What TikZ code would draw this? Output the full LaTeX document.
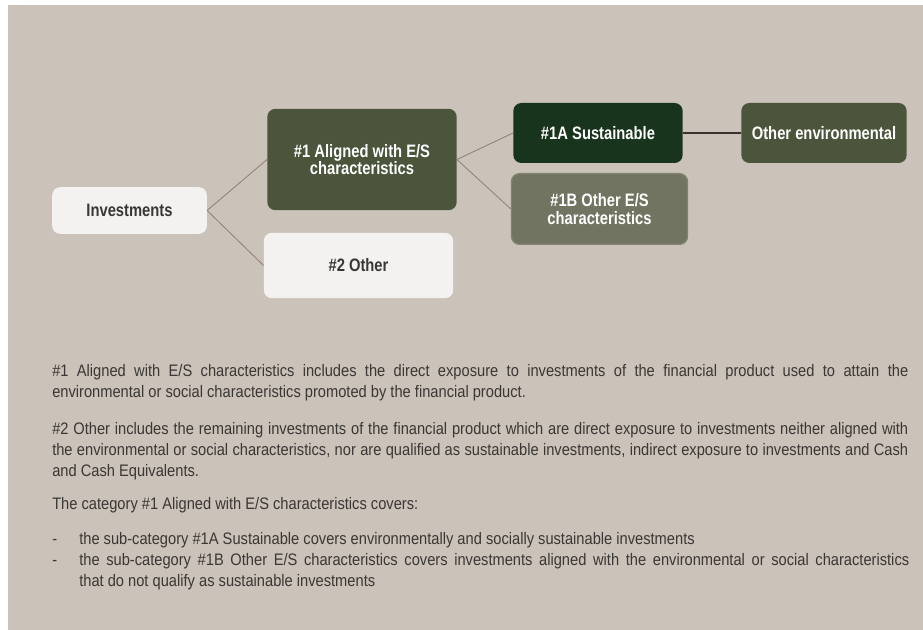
\documentclass[tikz,border=0pt]{standalone}
\usepackage{fontspec}
\setmainfont{Liberation Sans}[FakeStretch=0.88]
\newfontfamily\boxfont{Liberation Sans}[FakeStretch=0.82]
\usetikzlibrary{positioning}
\hyphenpenalty=10000
\exhyphenpenalty=10000

\definecolor{panelbg}{RGB}{203,194,185}
\definecolor{lightbox}{RGB}{243,242,240}
\definecolor{olivebox}{RGB}{74,85,60}
\definecolor{darkbox}{RGB}{25,52,29}
\definecolor{midbox}{RGB}{112,116,96}
\definecolor{linkcol}{RGB}{140,128,118}
\definecolor{barcol}{RGB}{60,48,44}
\definecolor{textcol}{RGB}{58,55,52}

\tikzset{
  catbox/.style={rectangle, rounded corners=6pt, align=center, inner sep=0pt, font=\boxfont\fontsize{13.5}{13}\selectfont\bfseries},
  lightcat/.style={catbox, fill=lightbox, text=textcol},
  olivecat/.style={catbox, fill=olivebox, text=white},
  link/.style={draw=linkcol, line width=0.6pt},
  para/.style={anchor=north west, inner sep=0pt, text width=642pt, align=justify, text=textcol, font=\fontsize{12.5}{15.75}\selectfont}
}

\begin{document}
\begin{tikzpicture}[x=0.75pt,y=0.75pt,yscale=-1,xscale=1]
\useasboundingbox (0,0) rectangle (923,630);

%Shape: Rectangle [background]
\fill [panelbg] (8,5) rectangle (923,630);

% Category boxes
\node [lightcat, minimum width=116pt, minimum height=35pt] (inv) at (129.5,210.5) {Investments};
\node [olivecat, minimum width=142pt, minimum height=76pt] (al) at (362,159.5) {\#1 Aligned with E/S\\characteristics};
\node [lightcat, minimum width=142pt, minimum height=49pt] (oth) at (358.5,265.5) {\#2 Other};
\node [catbox, fill=darkbox, text=white, minimum width=127pt, minimum height=45pt] (sust) at (598,133) {\#1A Sustainable};
\node [catbox, fill=midbox, draw={rgb,255:red,128;green,131;blue,112}, line width=1pt, text=white, minimum width=132pt, minimum height=53pt] (oes) at (599.5,209) {\#1B Other E/S\\characteristics};
\node [olivecat, minimum width=124pt, minimum height=45pt] (env) at (824,133) {Other environmental};

% Connectors
\draw [link] (inv.east) -- (al.west);
\draw [link] (inv.east) -- (oth.west);
\draw [link] (al.east) -- (sust.west);
\draw [link] (al.east) -- (oes.west);
\draw [draw=barcol, line width=1.6pt] (sust.east) -- (env.west);

% Text Node
\node [para] (p1) at (52,361.3) {\strut\#1 Aligned with E/S characteristics includes the direct exposure to investments of the financial product used to attain the\linebreak environmental or social characteristics promoted by the financial product.};
% Text Node
\node [para] (p2) at (52,419.3) {\strut\#2 Other includes the remaining investments of the financial product which are direct exposure to investments neither aligned with\linebreak the environmental or social characteristics, nor are qualified as sustainable investments, indirect exposure to investments and Cash\linebreak and Cash Equivalents.};
% Text Node
\node [para] (p3) at (52,494.3) {\strut The category \#1 Aligned with E/S characteristics covers:};
% Text Node
\node [para, text width=5pt] (d1) at (52,529.3) {\strut-};
\node [para, text width=622.5pt] (b1) at (79,529.3) {\strut the sub-category \#1A Sustainable covers environmentally and socially sustainable investments};
% Text Node
\node [para, text width=5pt] (d2) at (52,550.3) {\strut-};
\node [para, text width=622.5pt] (b2) at (79,550.3) {\strut the sub-category \#1B Other E/S characteristics covers investments aligned with the environmental or social characteristics\linebreak that do not qualify as sustainable investments};

\end{tikzpicture}
\end{document}
